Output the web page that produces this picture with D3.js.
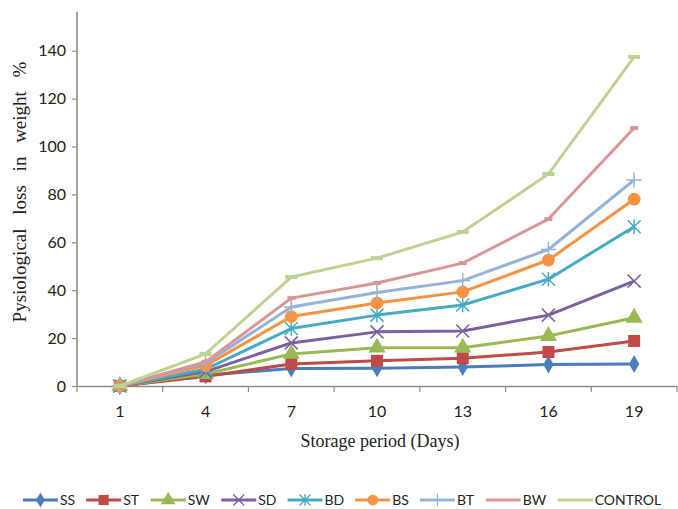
<!DOCTYPE html>
<html>
<head>
<meta charset="utf-8">
<script src="https://cdn.jsdelivr.net/npm/d3@7"></script>
<style>
  body { margin: 0; background: #fff; }
  svg { display: block; }
</style>
</head>
<body>
<svg></svg>
<script>
const width = 678,
  height = 509

// data
const days = [1, 4, 7, 10, 13, 16, 19]
const seriesNames = ["SS", "ST", "SW", "SD", "BD", "BS", "BT", "BW", "CONTROL"]
const SS = [0, 4.5, 7.3, 7.4, 7.9, 9.0, 9.2]
const ST = [0, 4, 9.2, 10.5, 11.6, 14.2, 18.8]
const SW = [0, 5, 13.4, 16, 16, 20.9, 28.5]
const SD = [0, 6, 18, 22.6, 23, 29.6, 43.8]
const BD = [0, 7, 24, 29.6, 33.8, 44.6, 66.5]
const BS = [0, 8.5, 29, 34.7, 39.3, 52.6, 78]
const BT = [0, 9.5, 33, 39, 44, 57, 86]
const BW = [0, 10, 36.7, 43, 51.3, 69.7, 107.7]
const CONTROL = [0, 13.4, 45.5, 53.4, 64.3, 88.5, 137.4]
const yTicks = [0, 20, 40, 60, 80, 100, 120, 140]

const values = [SS, ST, SW, SD, BD, BS, BT, BW, CONTROL]
const colors = ["#4a7ebb", "#be4b48", "#98b954", "#7d60a0", "#46aac5", "#f69240", "#95b3d7", "#d99694", "#bcd492"]
const markers = ["diamond", "square", "triangle", "x", "star", "circle", "plus", "dash", "longdash"]

const series = seriesNames.map((name, i) => ({
  name,
  color: colors[i],
  marker: markers[i],
  points: days.map((d, j) => ({ day: d, value: values[i][j] })),
}))

const svg = d3.select("svg").attr("width", width).attr("height", height)

const x = d3.scaleBand().domain(days).range([77, 677])
const y = d3.scaleLinear().domain([0, 140]).range([386, 50.7])
const cx = d => x(d) + x.bandwidth() / 2

const axisColor = "#8c8c8c"

// y axis
const yAxis = svg.append("g")
  .attr("transform", "translate(77,0)")
  .call(d3.axisLeft(y).tickValues(yTicks).tickSize(5).tickPadding(6))
yAxis.select(".domain").remove()
yAxis.selectAll(".tick line").attr("stroke", axisColor).attr("stroke-width", 1.2)
yAxis.selectAll(".tick text")
  .attr("fill", "#222")
  .style("font", "16px Lato, 'Open Sans', sans-serif")
svg.append("line")
  .attr("x1", 77).attr("x2", 77)
  .attr("y1", 12).attr("y2", y(0))
  .attr("stroke", axisColor).attr("stroke-width", 1.6)

// x axis
const xAxis = svg.append("g")
  .attr("transform", `translate(0,${y(0)})`)
  .call(d3.axisBottom(x).tickSize(0).tickPadding(20))
xAxis.select(".domain").attr("stroke", axisColor).attr("stroke-width", 1.6)
xAxis.selectAll(".tick text")
  .attr("fill", "#222")
  .style("font", "16px Lato, 'Open Sans', sans-serif")
// tick marks sit between categories
xAxis.selectAll(".sep")
  .data(d3.range(days.length + 1))
  .join("line")
  .attr("x1", i => 77 + i * x.step())
  .attr("x2", i => 77 + i * x.step())
  .attr("y1", 0).attr("y2", 6)
  .attr("stroke", axisColor).attr("stroke-width", 1.2)

// axis titles
svg.append("text")
  .attr("x", 380).attr("y", 447)
  .attr("text-anchor", "middle")
  .style("font", "18px 'Liberation Serif', 'DejaVu Serif', serif")
  .attr("fill", "#222")
  .text("Storage period (Days)")

svg.append("text")
  .attr("transform", "translate(26,192) rotate(-90)")
  .attr("text-anchor", "middle")
  .style("font", "19px 'Liberation Serif', 'DejaVu Serif', serif")
  .style("word-spacing", "9px")
  .attr("fill", "#222")
  .text("Pysiological loss in weight %")

// marker shapes
const markerPath = (type, s) => {
  switch (type) {
    case "diamond": return d3.symbol(d3.symbolDiamond, s * s * 0.55)()
    case "square": return d3.symbol(d3.symbolSquare, s * s * 0.85)()
    case "triangle": return d3.symbol(d3.symbolTriangle, s * s * 0.75)()
    case "circle": return d3.symbol(d3.symbolCircle, s * s * 0.75)()
    case "x": { const h = s / 2; return `M${-h},${-h}L${h},${h}M${-h},${h}L${h},${-h}` }
    case "star": { const h = s / 2; return `M${-h},${-h}L${h},${h}M${-h},${h}L${h},${-h}M0,${-h * 1.1}L0,${h * 1.1}` }
    case "plus": { const h = s / 2 + 1; return `M${-h},0L${h},0M0,${-h}L0,${h}` }
    case "dash": return `M-4,0L4,0`
    case "longdash": return `M-6,0L6,0`
  }
}
const filled = t => ["diamond", "square", "triangle", "circle"].includes(t)

const line = d3.line().x(d => cx(d.day)).y(d => y(d.value))

const plot = svg.append("g")
series.forEach(s => {
  const g = plot.append("g")
  g.append("path")
    .datum(s.points)
    .attr("d", line)
    .attr("fill", "none")
    .attr("stroke", s.color)
    .attr("stroke-width", 3)
    .attr("stroke-linejoin", "round")
  g.selectAll("path.mk")
    .data(s.points)
    .join("path")
    .attr("class", "mk")
    .attr("transform", d => `translate(${cx(d.day)},${y(d.value)})`)
    .attr("d", markerPath(s.marker, 13))
    .attr("fill", filled(s.marker) ? s.color : "none")
    .attr("stroke", s.color)
    .attr("stroke-width", filled(s.marker) ? 0 : (s.marker.includes("dash") ? 4 : 1.5))
})

// legend
const legend = svg.append("g").attr("transform", "translate(0,500)")
const items = legend.selectAll("g")
  .data(series)
  .join("g")
items.append("line")
  .attr("x1", 0).attr("x2", 35)
  .attr("stroke", d => d.color)
  .attr("stroke-width", 3)
items.append("path")
  .attr("transform", "translate(17.5,0)")
  .attr("d", d => d.marker.includes("dash") ? null : markerPath(d.marker, 11))
  .attr("fill", d => filled(d.marker) ? d.color : "none")
  .attr("stroke", d => d.color)
  .attr("stroke-width", d => filled(d.marker) ? 0 : 1.3)
items.append("text")
  .attr("x", 37)
  .attr("dy", "0.35em")
  .attr("fill", "#222")
  .style("font", "14px Lato, 'Open Sans', sans-serif")
  .text(d => d.name)

let pos = 0
const offsets = []
items.each(function () {
  offsets.push(pos)
  pos += this.getBBox().width + 11
})
const total = pos - 11
const start = 342 - total / 2
items.attr("transform", (d, i) => `translate(${start + offsets[i]},0)`)
</script>
</body>
</html>
